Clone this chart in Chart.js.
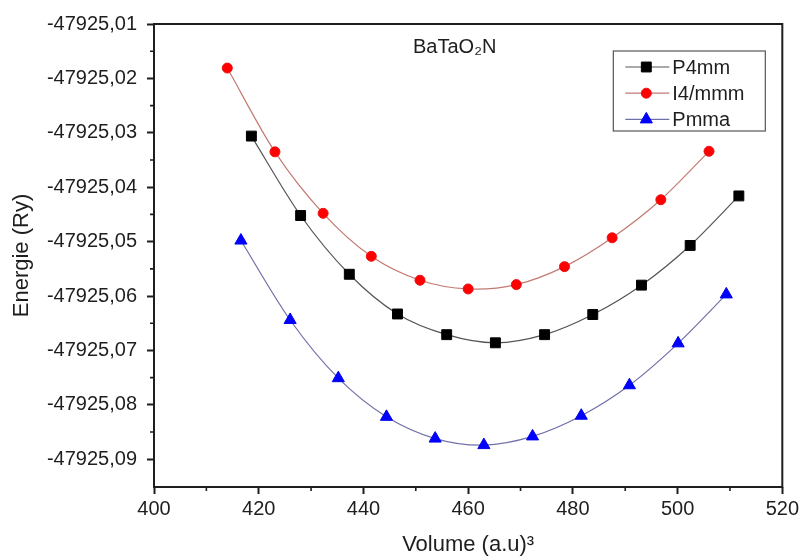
<!DOCTYPE html>
<html>
<head>
<meta charset="utf-8">
<script src="https://cdn.jsdelivr.net/npm/chart.js@4/dist/chart.umd.min.js"></script>
<style>
  html, body { margin: 0; padding: 0; background: #fff; }
  #wrap { width: 802px; height: 560px; }
</style>
</head>
<body>
<div id="wrap"><canvas id="c" width="802" height="560"></canvas></div>
<script>
// ---- Data ----
const chartTitle = 'BaTaO₂N';
const seriesNames = ['P4mm', 'I4/mmm', 'Pmma'];

const p4mmVolume = [418.6, 428.0, 437.3, 446.5, 455.9, 465.2, 474.6, 483.8, 493.1, 502.4, 511.7];
const p4mmEnergy = [-47925.0306, -47925.0452, -47925.0560, -47925.0633, -47925.0671, -47925.0686,
                    -47925.0671, -47925.0634, -47925.0580, -47925.0507, -47925.0416];

const i4mmmVolume = [414.0, 423.1, 432.3, 441.5, 450.8, 460.0, 469.2, 478.4, 487.5, 496.8, 506.0];
const i4mmmEnergy = [-47925.0181, -47925.0335, -47925.0448, -47925.0527, -47925.0571, -47925.0587,
                     -47925.0579, -47925.0546, -47925.0493, -47925.0423, -47925.0334];

const pmmaVolume = [416.6, 426.0, 435.2, 444.4, 453.7, 463.0, 472.3, 481.6, 490.8, 500.1, 509.3];
const pmmaEnergy = [-47925.0498, -47925.0644, -47925.0751, -47925.0822, -47925.0862, -47925.0874,
                    -47925.0858, -47925.0820, -47925.0764, -47925.0687, -47925.0597];

const xTickValues = [400, 420, 440, 460, 480, 500, 520];
const yTickValues = [-47925.09, -47925.08, -47925.07, -47925.06, -47925.05, -47925.04, -47925.03, -47925.02, -47925.01];

const xMin = 400, xMax = 520;
const yMin = -47925.0951, yMax = -47925.01;

// ---- helpers ----
const toPoints = (xs, ys) => xs.map((x, i) => ({ x: x, y: ys[i] }));
const FONT = "'Liberation Sans', Arial, Helvetica, sans-serif";

const frameAndMinorTicks = {
  id: 'frameAndMinorTicks',
  afterDraw(chart) {
    const { ctx, chartArea: a, scales } = chart;
    ctx.save();
    ctx.strokeStyle = '#1e1e1e';
    ctx.lineWidth = 2;
    ctx.strokeRect(a.left, a.top, a.right - a.left, a.bottom - a.top);
    // minor ticks (midpoints between major ticks)
    ctx.lineWidth = 1.6;
    ctx.beginPath();
    for (let i = 0; i < xTickValues.length - 1; i++) {
      const px = scales.x.getPixelForValue((xTickValues[i] + xTickValues[i + 1]) / 2);
      ctx.moveTo(px, a.bottom);
      ctx.lineTo(px, a.bottom + 4);
    }
    for (let i = 0; i < yTickValues.length - 1; i++) {
      const py = scales.y.getPixelForValue((yTickValues[i] + yTickValues[i + 1]) / 2);
      ctx.moveTo(a.left, py);
      ctx.lineTo(a.left - 4, py);
    }
    ctx.stroke();
    ctx.restore();
  }
};

const titleAndLegend = {
  id: 'titleAndLegend',
  afterDatasetsDraw(chart) {
    const { ctx, chartArea: a } = chart;
    ctx.save();
    // title inside plot
    ctx.font = '20px ' + FONT;
    ctx.fillStyle = '#1e1e1e';
    ctx.textAlign = 'left';
    ctx.textBaseline = 'alphabetic';
    ctx.fillText(chartTitle, a.left + 259, a.top + 29);

    // boxed legend
    const right = a.right - 17, left = right - 152, top = a.top + 27, bottom = top + 80;
    ctx.fillStyle = '#fff';
    ctx.fillRect(left, top, right - left, bottom - top);
    ctx.strokeStyle = '#555';
    ctx.lineWidth = 1.2;
    ctx.strokeRect(left, top, right - left, bottom - top);
    chart.data.datasets.forEach((ds, i) => {
      const y = top + 16 + i * 26.2;
      ctx.strokeStyle = ds.borderColor;
      ctx.lineWidth = ds.borderWidth;
      ctx.beginPath();
      ctx.moveTo(left + 12, y);
      ctx.lineTo(left + 56, y);
      ctx.stroke();
      ctx.fillStyle = ds.pointBackgroundColor;
      ctx.strokeStyle = ds.pointBorderColor;
      ctx.lineWidth = 1;
      Chart.helpers.drawPoint(ctx, { pointStyle: ds.pointStyle, rotation: 0, radius: ds.pointRadius, borderWidth: 1 }, left + 33, y);
      ctx.fillStyle = '#1e1e1e';
      ctx.font = '20px ' + FONT;
      ctx.textBaseline = 'middle';
      ctx.fillText(ds.label, left + 59, y + 1);
    });
    ctx.restore();
  }
};

new Chart(document.getElementById('c'), {
  type: 'line',
  data: {
    datasets: [
      {
        label: seriesNames[0],
        data: toPoints(p4mmVolume, p4mmEnergy),
        borderColor: '#555555',
        borderWidth: 1.2,
        pointStyle: 'rect',
        pointRadius: 7,
        pointBackgroundColor: '#000000',
        pointBorderColor: '#000000',
        pointBorderWidth: 1,
        tension: 0.3
      },
      {
        label: seriesNames[1],
        data: toPoints(i4mmmVolume, i4mmmEnergy),
        borderColor: '#c47a72',
        borderWidth: 1.2,
        pointStyle: 'circle',
        pointRadius: 5,
        pointBackgroundColor: '#ff0000',
        pointBorderColor: '#ee1111',
        pointBorderWidth: 1,
        tension: 0.3
      },
      {
        label: seriesNames[2],
        data: toPoints(pmmaVolume, pmmaEnergy),
        borderColor: '#7070a8',
        borderWidth: 1.2,
        pointStyle: 'triangle',
        pointRadius: 7,
        pointBackgroundColor: '#0000ff',
        pointBorderColor: '#0000ee',
        pointBorderWidth: 1,
        tension: 0.3
      }
    ]
  },
  options: {
    responsive: false,
    animation: false,
    devicePixelRatio: 1,
    layout: { padding: { top: 24, right: 19, left: 0, bottom: 0 } },
    plugins: {
      legend: { display: false },
      tooltip: { enabled: false }
    },
    scales: {
      x: {
        type: 'linear',
        min: xMin,
        max: xMax,
        afterFit(s) { s.height = 73; },
        afterBuildTicks(s) { s.ticks = xTickValues.map(v => ({ value: v })); },
        border: { display: false },
        grid: { drawOnChartArea: false, drawTicks: true, tickLength: 7, tickWidth: 2, tickColor: '#1e1e1e' },
        ticks: {
          color: '#1e1e1e',
          font: { family: FONT, size: 20 },
          padding: 3,
          maxRotation: 0,
          callback: v => String(v)
        },
        title: {
          display: true,
          text: 'Volume (a.u)³',
          color: '#1e1e1e',
          font: { family: FONT, size: 22 },
          padding: { top: 0, bottom: 2 }
        }
      },
      y: {
        type: 'linear',
        min: yMin,
        max: yMax,
        afterFit(s) { s.width = 154; },
        afterBuildTicks(s) { s.ticks = yTickValues.map(v => ({ value: v })); },
        border: { display: false },
        grid: { drawOnChartArea: false, drawTicks: true, tickLength: 7, tickWidth: 2, tickColor: '#1e1e1e' },
        ticks: {
          color: '#1e1e1e',
          font: { family: FONT, size: 20 },
          padding: 10,
          callback: v => v.toFixed(2).replace('.', ',')
        },
        title: {
          display: true,
          text: 'Energie (Ry)',
          color: '#1e1e1e',
          font: { family: FONT, size: 22 },
          padding: { top: 9, bottom: 0 }
        }
      }
    }
  },
  plugins: [frameAndMinorTicks, titleAndLegend]
});
</script>
</body>
</html>
